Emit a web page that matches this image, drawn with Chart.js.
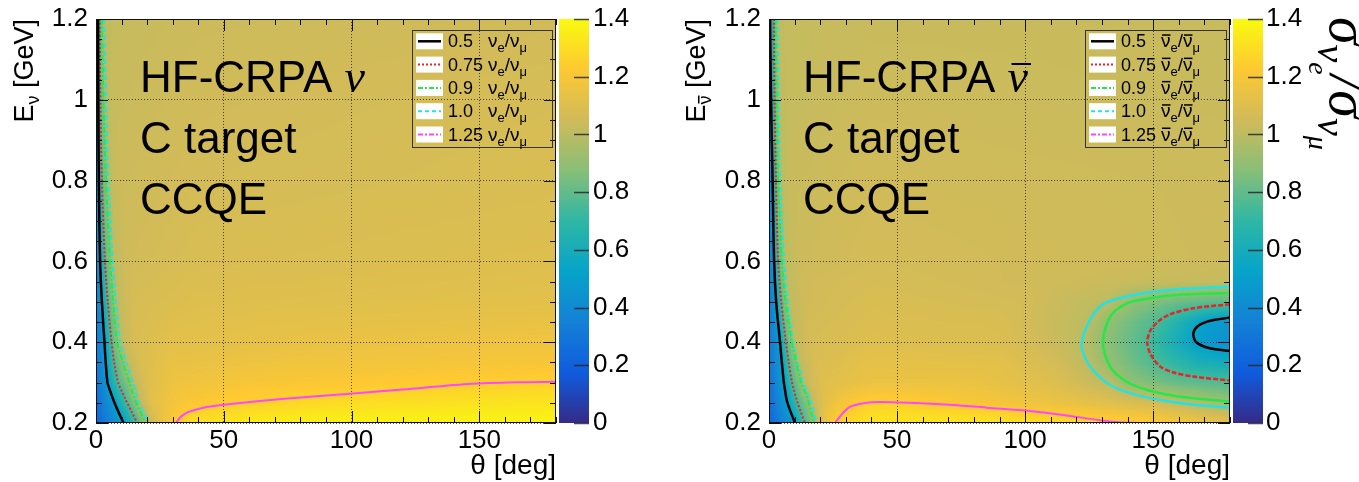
<!DOCTYPE html>
<html>
<head>
<meta charset="utf-8">
<title>HF-CRPA nu_e / nu_mu ratio</title>
<script src="https://cdn.jsdelivr.net/npm/chart.js@4.4.1/dist/chart.umd.min.js"></script>
<style>
  html, body { margin: 0; padding: 0; background: #fff; }
  #wrap { position: relative; width: 1359px; height: 482px; overflow: hidden; }
  canvas { position: absolute; top: 0; }
</style>
</head>
<body>
<div id="wrap">
  <canvas id="cNu" width="680" height="482" style="left:0"></canvas>
  <canvas id="cNubar" width="679" height="482" style="left:680px"></canvas>
</div>
<script>
// axes
const xTicks = [0, 50, 100, 150];
const xTickLabels = ['0', '50', '100', '150'];
const yTicks = [0.2, 0.4, 0.6, 0.8, 1.0, 1.2];
const yTickLabels = ['0.2', '0.4', '0.6', '0.8', '1', '1.2'];
const zTicks = [0, 0.2, 0.4, 0.6, 0.8, 1.0, 1.2, 1.4];
const zTickLabels = ['0', '0.2', '0.4', '0.6', '0.8', '1', '1.2', '1.4'];
const levelLabels = ['0.5', '0.75', '0.9', '1.0', '1.25'];

// nu panel : sigma(nu_e)/sigma(nu_mu) read along rows of fixed E
const nuRowE = [0.2, 0.25, 0.3, 0.35, 0.4, 0.5, 0.6, 0.8, 1.0, 1.2];
const nuRowTheta = [
  [0, 10.8, 16.2, 19.3, 20.5, 25, 31.3, 40, 60, 100, 180],
  [0, 7.3, 12.2, 15.8, 16.9, 22, 35, 57, 90, 140, 180],
  [0, 4.5, 8.7, 13.1, 14.5, 20, 30, 60, 120, 160, 180],
  [0, 3.8, 7.1, 10.5, 11.8, 18, 30, 80, 180],
  [0, 3.3, 6.1, 8.3, 9.5, 15, 30, 100, 180],
  [0, 2.3, 4.6, 6.7, 7.8, 14, 40, 180],
  [0, 1.6, 3.5, 5.5, 6.5, 12, 40, 180],
  [0, 1.1, 2.3, 3.9, 4.8, 9, 40, 180],
  [0, 0.9, 1.7, 2.9, 3.9, 7, 40, 180],
  [0, 0.8, 1.4, 2.3, 3.1, 6, 40, 180]
];
const nuRowRatio = [
  [0.22, 0.5, 0.75, 0.9, 1.0, 1.13, 1.25, 1.31, 1.35, 1.37, 1.38],
  [0.25, 0.5, 0.75, 0.9, 1.0, 1.12, 1.21, 1.25, 1.29, 1.31, 1.32],
  [0.27, 0.5, 0.75, 0.9, 1.0, 1.1, 1.16, 1.2, 1.23, 1.25, 1.26],
  [0.28, 0.5, 0.75, 0.9, 1.0, 1.09, 1.14, 1.17, 1.2],
  [0.3, 0.5, 0.75, 0.9, 1.0, 1.08, 1.12, 1.15, 1.17],
  [0.32, 0.5, 0.75, 0.9, 1.0, 1.07, 1.1, 1.12],
  [0.33, 0.5, 0.75, 0.9, 1.0, 1.05, 1.08, 1.1],
  [0.35, 0.5, 0.75, 0.9, 1.0, 1.04, 1.06, 1.08],
  [0.37, 0.5, 0.75, 0.9, 1.0, 1.03, 1.05, 1.07],
  [0.4, 0.5, 0.75, 0.9, 1.0, 1.02, 1.04, 1.05]
];

// nubar panel
const nubarRowE = [0.2, 0.25, 0.3, 0.35, 0.4, 0.45, 0.5, 0.55, 0.6, 0.8, 1.0, 1.2];
const nubarRowTheta = [
  [0, 10.2, 14, 17.6, 18.6, 22, 25.8, 40, 80, 120, 145, 165, 180],
  [0, 7.3, 11.2, 15.5, 16.5, 22, 30, 38, 46, 55, 80, 120, 150, 163, 180],
  [0, 5.8, 9, 12.5, 13.3, 20, 40, 80, 110, 133, 140, 160, 180],
  [0, 5, 7.7, 10.6, 11.2, 18, 40, 90, 115, 124.5, 133, 151.5, 168, 180],
  [0, 4.3, 6.6, 8.9, 9.4, 16, 40, 90, 110, 122.1, 130.4, 147.7, 167, 180],
  [0, 3.5, 5.6, 7.6, 8.3, 15, 40, 90, 112, 124.8, 132.6, 152, 171, 180],
  [0, 2.8, 4.8, 6.5, 7.3, 14, 40, 100, 120, 133, 142.5, 160, 180],
  [0, 2.4, 4.2, 5.7, 6.6, 13, 40, 100, 150, 180],
  [0, 2.0, 3.6, 5.0, 5.9, 12, 40, 180],
  [0, 1.4, 2.7, 3.6, 4.3, 9, 40, 180],
  [0, 0.8, 2.2, 3.0, 3.7, 7, 40, 180],
  [0, 0.4, 1.9, 2.6, 3.3, 6, 40, 180]
];
const nubarRowRatio = [
  [0.22, 0.5, 0.75, 0.9, 1.0, 1.15, 1.25, 1.32, 1.33, 1.29, 1.25, 1.18, 1.12],
  [0.25, 0.5, 0.75, 0.9, 1.0, 1.12, 1.2, 1.25, 1.26, 1.25, 1.2, 1.14, 1.06, 1.0, 0.92],
  [0.27, 0.5, 0.75, 0.9, 1.0, 1.1, 1.15, 1.15, 1.1, 1.0, 0.9, 0.81, 0.76],
  [0.28, 0.5, 0.75, 0.9, 1.0, 1.08, 1.13, 1.12, 1.05, 1.0, 0.9, 0.75, 0.62, 0.58],
  [0.3, 0.5, 0.75, 0.9, 1.0, 1.07, 1.1, 1.09, 1.04, 1.0, 0.9, 0.75, 0.5, 0.42],
  [0.31, 0.5, 0.75, 0.9, 1.0, 1.06, 1.09, 1.08, 1.03, 1.0, 0.9, 0.75, 0.5, 0.46],
  [0.31, 0.5, 0.75, 0.9, 1.0, 1.05, 1.08, 1.06, 1.02, 1.0, 0.9, 0.82, 0.78],
  [0.32, 0.5, 0.75, 0.9, 1.0, 1.05, 1.07, 1.05, 1.03, 1.02],
  [0.33, 0.5, 0.75, 0.9, 1.0, 1.04, 1.06, 1.04],
  [0.35, 0.5, 0.75, 0.9, 1.0, 1.03, 1.05, 1.04],
  [0.37, 0.5, 0.75, 0.9, 1.0, 1.02, 1.04, 1.03],
  [0.4, 0.5, 0.75, 0.9, 1.0, 1.02, 1.03, 1.03]
];

// contours near theta = 0, theta given at these E
const edgeE = [1.2, 1.0, 0.8, 0.6, 0.5, 0.4, 0.35, 0.3, 0.28, 0.257, 0.23, 0.2];
const nuEdge050 = [0.8, 0.9, 1.1, 1.6, 2.3, 3.3, 3.8, 4.5, 5.5, 6.8, 8.6, 10.8];
const nuEdge075 = [1.4, 1.7, 2.3, 3.5, 4.6, 6.1, 7.1, 8.7, 10.0, 11.7, 13.8, 16.2];
const nuEdge090 = [2.3, 2.9, 3.9, 5.5, 6.7, 8.3, 10.5, 13.1, 14.1, 15.3, 17.2, 19.3];
const nuEdge100 = [3.1, 3.9, 4.8, 6.5, 7.8, 9.5, 11.8, 14.5, 15.4, 16.4, 18.3, 20.5];
const nubarEdge050 = [0.4, 0.8, 1.4, 2.0, 2.8, 4.3, 5.0, 5.8, 6.3, 6.9, 8.3, 10.2];
const nubarEdge075 = [1.9, 2.2, 2.7, 3.6, 4.8, 6.6, 7.7, 9.0, 9.8, 10.8, 12.3, 14.0];
const nubarEdge090 = [2.6, 3.0, 3.6, 5.0, 6.5, 8.9, 10.6, 12.5, 13.8, 15.2, 16.3, 17.6];
const nubarEdge100 = [3.3, 3.7, 4.3, 5.9, 7.3, 9.4, 11.2, 13.3, 14.6, 16.2, 17.3, 18.6];

// 1.25 contours
const nu125Theta = [31.3, 32.2, 33.5, 36, 42, 50, 65, 80, 98, 120, 147, 165, 180];
const nu125E = [0.2, 0.208, 0.217, 0.227, 0.238, 0.245, 0.255, 0.263, 0.272, 0.283, 0.297, 0.301, 0.302];
const nubar125Theta = [25.8, 27, 28.5, 31.6, 37, 43, 55, 70.7, 85, 102, 115, 129, 137, 145];
const nubar125E = [0.2, 0.21, 0.222, 0.24, 0.249, 0.252, 0.25, 0.245, 0.238, 0.23, 0.22, 0.207, 0.202, 0.2];

// nubar dip at large angle
const ovalTheta100 = [180, 165, 152.7, 142, 131, 125.3, 122.1, 123.5, 126.5, 133.2, 142, 152.7, 165, 180];
const ovalE100 = [0.537, 0.533, 0.527, 0.516, 0.496, 0.455, 0.395, 0.36, 0.331, 0.294, 0.272, 0.257, 0.246, 0.238];
const ovalTheta090 = [180, 159.2, 148, 139.7, 133.2, 130.4, 133.2, 139.7, 148, 159.2, 180];
const ovalE090 = [0.522, 0.517, 0.508, 0.496, 0.463, 0.4, 0.339, 0.302, 0.281, 0.266, 0.253];
const ovalTheta075 = [180, 165.7, 157, 152.7, 149, 147.7, 149, 152.7, 158, 165.7, 180];
const ovalE075 = [0.494, 0.484, 0.47, 0.455, 0.43, 0.4, 0.37, 0.34, 0.325, 0.315, 0.305];
const ovalTheta050 = [180, 172.2, 167.5, 165.7, 166.8, 172.2, 180];
const ovalE050 = [0.461, 0.453, 0.44, 0.422, 0.4, 0.385, 0.378];

// ROOT kBird palette
const birdStop = [0.0, 0.125, 0.25, 0.375, 0.5, 0.625, 0.75, 0.875, 1.0];
const birdR = [0.2082, 0.0592, 0.0780, 0.0232, 0.1802, 0.5301, 0.8186, 0.9956, 0.9764];
const birdG = [0.1664, 0.3599, 0.5041, 0.6419, 0.7178, 0.7492, 0.7328, 0.7862, 0.9832];
const birdB = [0.5293, 0.8684, 0.8385, 0.7914, 0.6425, 0.4662, 0.3499, 0.1968, 0.0539];
const zMax = 1.4;

function birdColor(v) {
  const f = Math.min(1, Math.max(0, v / zMax));
  let i = 0;
  while (i < birdStop.length - 2 && f > birdStop[i + 1]) i++;
  const t = (f - birdStop[i]) / (birdStop[i + 1] - birdStop[i]);
  return [birdR, birdG, birdB].map(c => Math.round(255 * (c[i] + t * (c[i + 1] - c[i]))));
}

function rowAt(ths, vs, t) {
  if (t <= ths[0]) return vs[0];
  for (let i = 1; i < ths.length; i++) {
    if (t <= ths[i]) {
      const f = (t - ths[i - 1]) / (ths[i] - ths[i - 1]);
      return vs[i - 1] + f * (vs[i] - vs[i - 1]);
    }
  }
  return vs[vs.length - 1];
}

function ratioAt(p, t, e) {
  const E = p.rowE;
  let k = 0;
  while (k < E.length - 2 && e > E[k + 1]) k++;
  const f = Math.min(1, Math.max(0, (e - E[k]) / (E[k + 1] - E[k])));
  const a = rowAt(p.rowTheta[k], p.rowRatio[k], t);
  const b = rowAt(p.rowTheta[k + 1], p.rowRatio[k + 1], t);
  return a + f * (b - a);
}

const SANS = '"Liberation Sans", Arial, sans-serif';
const SERIF = '"Liberation Serif", "Times New Roman", serif';
const cRed = '#ee2222', cGreen = '#22e84a', cCyan = '#22e2e6', cMag = '#ff46ff';
const legendStyle = [
  { color: '#000', width: 2.5, dash: [] },
  { color: cRed, width: 2, dash: [2, 2] },
  { color: cGreen, width: 2, dash: [5, 2, 2, 2] },
  { color: cCyan, width: 2, dash: [4, 3] },
  { color: cMag, width: 2, dash: [5, 2, 2, 2] }
];

function line(theta, e, color, width, dash) {
  return { theta, e, color, width, dash };
}

// text made of pieces (sub/superscripts, bars)
function drawPieces(ctx, pieces, x, base) {
  for (const p of pieces) {
    ctx.font = p.font;
    const w = ctx.measureText(p.s).width;
    ctx.fillText(p.s, x, base + (p.dy || 0));
    if (p.bar) {
      ctx.fillRect(x + (p.barDx || 0) + 1, base + (p.dy || 0) - p.barY, w - 1, p.barH || 1.5);
    }
    x += w;
  }
  return x;
}
function piecesWidth(ctx, pieces) {
  let w = 0;
  for (const p of pieces) { ctx.font = p.font; w += ctx.measureText(p.s).width; }
  return w;
}

function heatmapPlugin(p) {
  return {
    id: 'heatmap',
    beforeDraw(chart) {
      const { ctx, chartArea: a, scales } = chart;
      const L = Math.round(a.left), T = Math.round(a.top);
      const w = Math.round(a.right) - L, h = Math.round(a.bottom) - T;
      const img = ctx.createImageData(w, h);
      const th = [];
      for (let i = 0; i < w; i++) th.push(scales.x.getValueForPixel(L + i + 0.5));
      for (let j = 0; j < h; j++) {
        const e = scales.y.getValueForPixel(T + j + 0.5);
        for (let i = 0; i < w; i++) {
          const c = birdColor(ratioAt(p, th[i], e));
          const k = 4 * (j * w + i);
          img.data[k] = c[0]; img.data[k + 1] = c[1]; img.data[k + 2] = c[2]; img.data[k + 3] = 255;
        }
      }
      ctx.putImageData(img, L, T);

      // colour bar
      const cb = scales.cb;
      const x0 = Math.round(cb.left) + 3;
      for (let py = T; py < T + h; py++) {
        const c = birdColor(cb.getValueForPixel(py + 0.5));
        ctx.fillStyle = `rgb(${c[0]},${c[1]},${c[2]})`;
        ctx.fillRect(x0, py, 30, 1);
      }
    },
    afterDraw(chart) {
      const { ctx, chartArea: a, scales } = chart;
      ctx.save();
      // frame
      ctx.strokeStyle = '#111';
      ctx.lineWidth = 1;
      ctx.setLineDash([]);
      ctx.strokeRect(a.left + 0.5, a.top + 0.5, a.right - a.left - 1, a.bottom - a.top - 1);
      // inner tick marks
      ctx.beginPath();
      for (let v = 0; v <= 180; v += 10) {
        const px = Math.round(scales.x.getPixelForValue(v)) + 0.5;
        const len = v % 50 === 0 ? 12 : 6;
        ctx.moveTo(px, a.bottom); ctx.lineTo(px, a.bottom - len);
        ctx.moveTo(px, a.top); ctx.lineTo(px, a.top + len);
      }
      for (let k = 0; k <= 20; k++) {
        const py = Math.round(scales.y.getPixelForValue(0.2 + 0.05 * k)) + 0.5;
        const len = k % 4 === 0 ? 12 : 6;
        ctx.moveTo(a.left, py); ctx.lineTo(a.left + len, py);
        ctx.moveTo(a.right, py); ctx.lineTo(a.right - len, py);
      }
      ctx.stroke();
      // colour bar ticks
      const cb = scales.cb;
      const xr = Math.round(cb.left) + 33;
      ctx.strokeStyle = 'rgba(40,40,40,0.85)';
      ctx.lineWidth = 1.5;
      ctx.beginPath();
      zTicks.forEach(v => {
        const py = Math.round(cb.getPixelForValue(v)) + 0.5;
        ctx.moveTo(xr - 15, py); ctx.lineTo(xr, py);
      });
      ctx.stroke();

      ctx.fillStyle = '#000';
      ctx.textAlign = 'left';
      ctx.textBaseline = 'alphabetic';

      // legend
      const lg = p.legend;
      ctx.strokeStyle = '#333';
      ctx.lineWidth = 1;
      ctx.strokeRect(lg.x + 0.5, lg.y + 0.5, lg.w, lg.h);
      levelLabels.forEach((lab, i) => {
        const cy = lg.y + 11.3 + i * 23.3;
        ctx.fillStyle = '#fff';
        ctx.fillRect(lg.x + 4, cy - 8, 27, 16);
        const st = legendStyle[i];
        ctx.strokeStyle = st.color;
        ctx.lineWidth = st.width;
        ctx.setLineDash(st.dash);
        ctx.beginPath();
        ctx.moveTo(lg.x + 6, cy); ctx.lineTo(lg.x + 29, cy);
        ctx.stroke();
        ctx.setLineDash([]);
        ctx.fillStyle = '#000';
        ctx.font = '18px ' + SANS;
        ctx.fillText(lab, lg.x + 36, cy + 6);
        const big = '19px ' + SANS, small = '13px ' + SANS;
        drawPieces(ctx, [
          { s: 'ν', font: big, bar: p.bar, barY: 13 },
          { s: 'e', font: small, dy: 5 },
          { s: '/', font: big },
          { s: 'ν', font: big, bar: p.bar, barY: 13 },
          { s: 'μ', font: small, dy: 5 }
        ], lg.x + 76, cy + 6);
      });

      // text block
      ctx.fillStyle = '#000';
      const tf = '44px ' + SANS;
      ctx.font = tf;
      const x1 = drawPieces(ctx, [{ s: 'HF-CRPA ', font: tf }], p.titleX, 92);
      drawPieces(ctx, [{ s: 'ν', font: 'italic 46px ' + SERIF, bar: p.bar, barY: 29, barH: 2, barDx: 3 }], x1, 92);
      ctx.font = tf;
      ctx.fillText('C target', p.titleX, 153);
      ctx.fillText('CCQE', p.titleX, 214);

      // x title
      ctx.font = '28px ' + SANS;
      ctx.textAlign = 'right';
      ctx.fillText('θ [deg]', a.right, 474);
      ctx.textAlign = 'left';

      // y title
      const yp = [
        { s: 'E', font: '27px ' + SANS },
        { s: 'ν', font: '18px ' + SANS, dy: 6, bar: p.bar, barY: 13 },
        { s: ' [GeV]', font: '27px ' + SANS }
      ];
      ctx.save();
      ctx.translate(p.yTitleX, a.top);
      ctx.rotate(-Math.PI / 2);
      drawPieces(ctx, yp, -piecesWidth(ctx, yp), 0);
      ctx.restore();

      // colour bar title
      if (p.zTitle) {
        ctx.save();
        ctx.translate(p.zTitle.x, p.zTitle.y);
        ctx.rotate(Math.PI / 2);
        const sg = 'italic 56px ' + SERIF, nu = 'italic 40px ' + SERIF, sub = 'italic 28px ' + SERIF;
        drawPieces(ctx, [
          { s: 'σ', font: sg },
          { s: 'ν', font: nu, dy: 12 },
          { s: 'e', font: sub, dy: 21 },
          { s: '/', font: sg },
          { s: 'σ', font: sg },
          { s: 'ν', font: nu, dy: 12 },
          { s: 'μ', font: sub, dy: 21 }
        ], 0, 0);
        ctx.restore();
      }
      ctx.restore();
    }
  };
}

// keep the plot frame where it is: no extra label padding from the axes
function noPad(s) {
  s.paddingTop = 0; s.paddingBottom = 0; s.paddingLeft = 0; s.paddingRight = 0;
}

function makeChart(p) {
  const canvas = document.getElementById(p.canvas);
  const tickFont = { family: SANS, size: 26 };
  const gridColor = 'rgba(20,20,20,0.75)';
  return new Chart(canvas, {
    type: 'scatter',
    data: {
      datasets: p.contours.map(c => ({
        data: c.theta.map((t, i) => ({ x: t, y: c.e[i] })),
        xAxisID: 'x', yAxisID: 'y',
        showLine: true, borderColor: c.color, borderWidth: c.width, borderDash: c.dash,
        pointRadius: 0, tension: 0.3, clip: 0
      }))
    },
    options: {
      responsive: false, animation: false, devicePixelRatio: 1, events: [],
      layout: { padding: { top: 19, left: 0, right: 0, bottom: 0 }, autoPadding: false },
      plugins: { legend: { display: false }, tooltip: { enabled: false } },
      scales: {
        x: {
          type: 'linear', position: 'bottom', min: 0, max: 180,
          afterBuildTicks: s => { s.ticks = xTicks.map(v => ({ value: v })); },
          afterFit: s => { s.height = 482 - 423; noPad(s); },
          ticks: { font: tickFont, color: '#000', padding: 2, maxRotation: 0, autoSkip: false,
                   callback: (v, i) => xTickLabels[i] },
          grid: { color: gridColor, drawTicks: false },
          border: { display: false, dash: [1, 2] }
        },
        y: {
          type: 'linear', position: 'left', min: 0.2, max: 1.2,
          afterBuildTicks: s => { s.ticks = yTicks.map(v => ({ value: v })); },
          afterFit: s => { s.width = p.plotLeft; noPad(s); },
          ticks: { font: tickFont, color: '#000', padding: 8, autoSkip: false,
                   callback: (v, i) => yTickLabels[i] },
          grid: { color: gridColor, drawTicks: false },
          border: { display: false, dash: [1, 2] }
        },
        cb: {
          type: 'linear', axis: 'y', position: 'right', min: 0, max: zMax,
          afterBuildTicks: s => { s.ticks = zTicks.map(v => ({ value: v })); },
          afterFit: s => { s.width = p.width - p.plotRight; noPad(s); },
          ticks: { font: tickFont, color: '#000', padding: p.cbPad, autoSkip: false,
                   callback: (v, i) => zTickLabels[i] },
          grid: { display: false, drawTicks: false },
          border: { display: false }
        }
      }
    },
    plugins: [heatmapPlugin(p)]
  });
}

makeChart({
  canvas: 'cNu', width: 680, plotLeft: 96, plotRight: 556, cbPad: 37,
  rowE: nuRowE, rowTheta: nuRowTheta, rowRatio: nuRowRatio,
  legend: { x: 412, y: 30, w: 140, h: 117 }, bar: false,
  titleX: 140, yTitleX: 33, zTitle: null,
  contours: [
    line(nuEdge050, edgeE, '#000', 2.5, []),
    line(nuEdge075, edgeE, cRed, 2, [2, 2]),
    line(nuEdge090, edgeE, cGreen, 2, [6, 2, 2, 2]),
    line(nuEdge100, edgeE, cCyan, 2, [5, 3]),
    line(nu125Theta, nu125E, cMag, 2, [])
  ]
});

makeChart({
  canvas: 'cNubar', width: 679, plotLeft: 89, plotRight: 550, cbPad: 36,
  rowE: nubarRowE, rowTheta: nubarRowTheta, rowRatio: nubarRowRatio,
  legend: { x: 405, y: 30, w: 141, h: 117 }, bar: true,
  titleX: 123, yTitleX: 25, zTitle: { x: 650, y: 17 },
  contours: [
    line(nubarEdge050, edgeE, '#000', 2.5, []),
    line(nubarEdge075, edgeE, cRed, 2, [2, 2]),
    line(nubarEdge090, edgeE, cGreen, 2, [6, 2, 2, 2]),
    line(nubarEdge100, edgeE, cCyan, 2, [5, 3]),
    line(nubar125Theta, nubar125E, cMag, 2, []),
    line(ovalTheta100, ovalE100, cCyan, 2.5, []),
    line(ovalTheta090, ovalE090, cGreen, 2.5, []),
    line(ovalTheta075, ovalE075, cRed, 2.5, [5, 2]),
    line(ovalTheta050, ovalE050, '#000', 2.5, [])
  ]
});
</script>
</body>
</html>
